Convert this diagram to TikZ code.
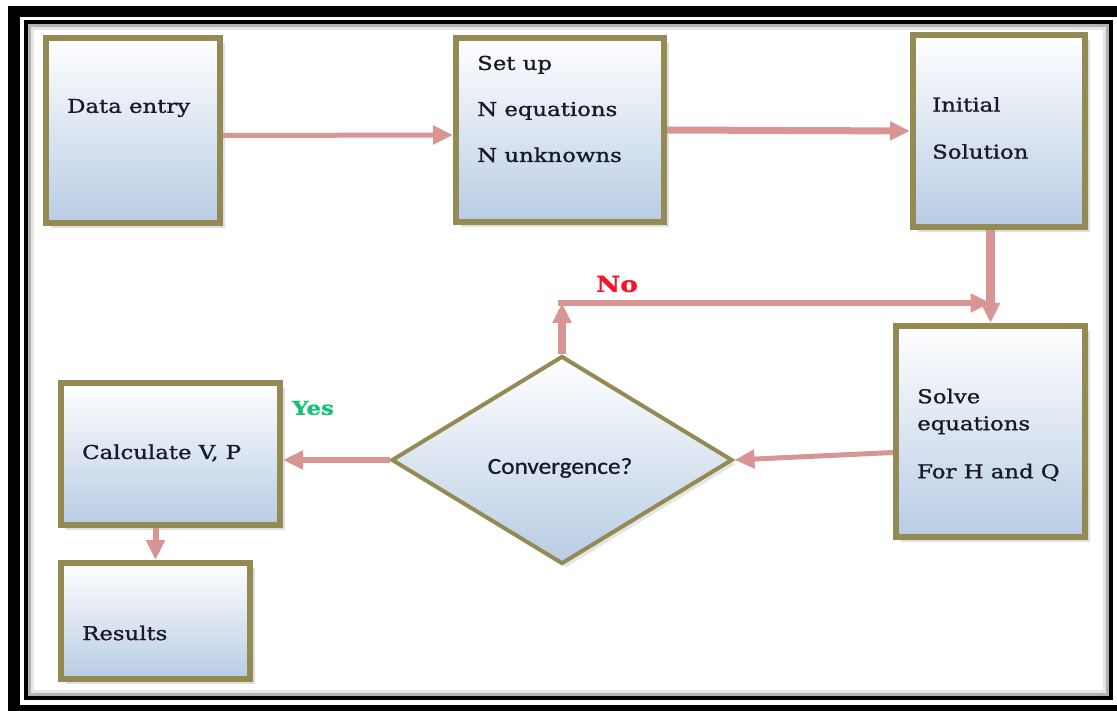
\documentclass[tikz,border=0pt]{standalone}
\usepackage{fontspec}
\setmainfont{DejaVu Serif}[FakeStretch=1.2, FakeBold=1.2]
\newfontfamily\convfont{Carlito}[FakeStretch=1.1, FakeBold=0.8]
\usepackage{tikz}
\usetikzlibrary{shapes,arrows.meta}
\usetikzlibrary{shadows}
\usetikzlibrary{calc}
\definecolor{boxline}{RGB}{148,138,84}
\definecolor{boxblue}{RGB}{184,204,228}
\definecolor{flowpink}{RGB}{217,149,148}
\definecolor{textdark}{RGB}{25,25,40}
\definecolor{nored}{RGB}{245,20,40}
\definecolor{yesgreen}{RGB}{20,195,115}
\tikzstyle{block} = [draw=boxline, line width=6pt, top color=white, bottom color=boxblue, drop shadow={opacity=0.25, shadow xshift=5pt, shadow yshift=-5pt}]
\tikzstyle{decision} = [diamond, draw=boxline, line width=4pt, inner sep=0pt, top color=white, bottom color=boxblue, drop shadow={opacity=0.2, shadow xshift=4pt, shadow yshift=-4pt}]
\tikzstyle{txt} = [align=left, inner sep=0pt, text=textdark, font=\fontsize{19}{27}\selectfont]
\tikzstyle{flow} = [draw=flowpink, line width=5pt]

\begin{document}
\begin{tikzpicture}[auto, x=1pt, y=-1pt, >={Triangle[length=20pt,width=18pt]}]
  \useasboundingbox (0,0) rectangle (1117,711);
  % frame
  \fill [black] (8,6) rectangle (1117,711);
  \fill [white] (20,17) rectangle (1117,705);
  \draw [black, line width=4pt] (26,22) rectangle (1111,698);
  \draw [black!30, line width=3pt] (29.5,25.5) rectangle (1107.5,694.5);
  \draw [black!10, line width=3pt] (32.5,28.5) rectangle (1104.5,691.5);

  % boxes
  \node [block, name=data, minimum width=174pt, minimum height=185pt] at (133,130.5) {};
  \node [block, name=setup, minimum width=208pt, minimum height=184pt] at (560,130) {};
  \node [block, name=init, minimum width=172pt, minimum height=192pt] at (999,131) {};
  \node [block, name=solve, minimum width=189pt, minimum height=211pt] at (990.5,431.5) {};
  \node [block, name=calc, minimum width=219pt, minimum height=142pt] at (170.5,454) {};
  \node [block, name=results, minimum width=189pt, minimum height=116pt] at (155.5,621) {};
  \node [decision, name=conv, minimum width=341pt, minimum height=208pt] at (562,460) {};

  % texts
  \node [txt, name=datatext, anchor=west] at (67,108) {Data entry};
  \node [txt, name=setuptext, anchor=west] at (477,109) {Set up\\[19pt]N equations\\[19pt]N unknowns};
  \node [txt, name=inittext, anchor=west] at (932,128) {Initial\\[20pt]Solution};
  \node [txt, name=solvetext, anchor=west] at (917,435) {Solve\\equations\\[21pt]For H and Q};
  \node [txt, name=calctext, anchor=west] at (82,453) {Calculate V, P};
  \node [txt, name=restext, anchor=west] at (82,633) {Results};
  \node [name=convtext, inner sep=0pt, text=textdark, font=\convfont\fontsize{23}{27}\selectfont] at (560,468) {Convergence?};
  \node [name=nolabel, inner sep=0pt, text=nored, font=\bfseries\fontsize{22}{26}\selectfont] at (617,284) {No};
  \node [name=yeslabel, inner sep=0pt, text=yesgreen, font=\bfseries\fontsize{19}{22}\selectfont] at (313,408) {Yes};

  % connectors
  \coordinate (nocorner) at (562,303);
  \coordinate (nojoin) at (solve.north |- nocorner);
  \draw [flow, ->] ([yshift=-5pt]data.east) -- ([yshift=-5pt]setup.west);
  \draw [flow, ->, line width=7pt] (setup.east) -- (init.west);
  \draw [flow, ->, line width=9pt] (solve.north |- init.south) -- (solve.north);
  \draw [flow, ->, line width=8pt] (conv.north) -- (nocorner);
  \draw [flow, ->, line width=6pt] ([xshift=-4pt]nocorner) -- (nojoin);
  \draw [flow, ->] ([yshift=-21pt]solve.west) -- (conv.east);
  \draw [flow, ->, line width=6pt] (conv.west) -- (conv.west -| calc.east);
  \draw [flow, ->, line width=6pt] (results.north |- calc.south) -- (results.north);
\end{tikzpicture}
\end{document}
